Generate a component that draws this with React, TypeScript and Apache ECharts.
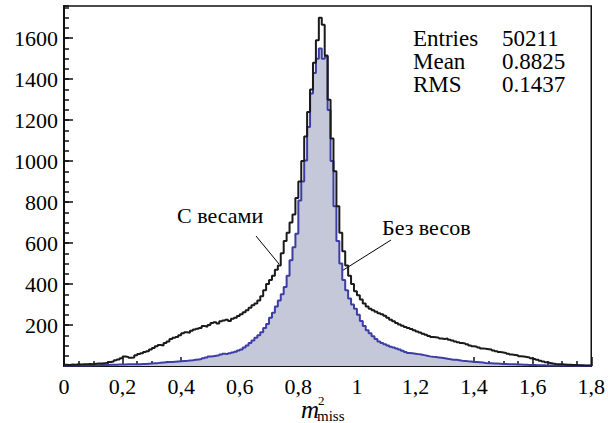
import React, { useEffect, useRef } from "react";
import * as echarts from "echarts";

// Histogram bin width and bin contents (bins start at 0, width 0.01)
const binWidth = 0.01;
const weighted = [
  6, 5, 7, 6, 8, 7, 9, 8, 10, 9,
  11, 12, 12, 14, 16, 20, 22, 28, 32, 38,
  46, 44, 40, 42, 52, 58, 62, 68, 72, 80,
  88, 96, 102, 100, 112, 120, 132, 138, 142, 150,
  160, 165, 162, 172, 178, 182, 186, 195, 192, 200,
  210, 214, 208, 218, 222, 226, 220, 230, 236, 244,
  252, 262, 272, 284, 296, 305, 320, 340, 370, 400,
  420, 440, 470, 490, 550, 610, 650, 700, 740, 820,
  900, 1000, 1120, 1240, 1350, 1480, 1590, 1700, 1665, 1515,
  1300, 1110, 950, 780, 650, 560, 490, 440, 400, 365,
  345, 325, 305, 290, 280, 272, 265, 258, 252, 245,
  236, 226, 218, 210, 202, 196, 190, 186, 180, 174,
  168, 164, 158, 152, 146, 142, 140, 138, 134, 132,
  134, 128, 124, 120, 116, 112, 110, 106, 100, 96,
  94, 90, 86, 84, 82, 80, 76, 72, 68, 66,
  64, 60, 56, 54, 52, 48, 46, 44, 42, 38,
  34, 30, 26, 22, 18, 15, 12, 10, 9, 8,
  7, 6, 6, 5, 5, 4, 4, 3, 3, 3,
];
const unweighted = [
  2, 2, 3, 2, 3, 3, 3, 4, 3, 4,
  4, 4, 5, 5, 5, 6, 6, 6, 7, 7,
  7, 8, 8, 8, 9, 9, 10, 10, 11, 12,
  13, 14, 16, 17, 18, 19, 20, 21, 22, 23,
  24, 25, 27, 28, 30, 32, 34, 38, 42, 46,
  48, 50, 52, 56, 60, 58, 62, 66, 70, 76,
  80, 90, 100, 112, 124, 138, 150, 165, 185, 205,
  235, 260, 290, 320, 350, 385, 440, 516, 580, 646,
  808, 900, 1003, 1166, 1330, 1430, 1500, 1550, 1500, 1510,
  1250, 1000, 780, 610, 500, 420, 370, 330, 300, 280,
  250, 220, 195, 175, 160, 145, 132, 120, 112, 106,
  100, 94, 90, 86, 80, 74, 68, 64, 62, 60,
  58, 56, 53, 50, 47, 45, 44, 42, 40, 38,
  35, 33, 31, 30, 28, 26, 25, 23, 22, 20,
  19, 18, 17, 15, 14, 13, 12, 12, 11, 10,
  10, 9, 8, 8, 7, 7, 6, 6, 5, 5,
  5, 4, 4, 4, 3, 3, 3, 3, 2, 2,
  2, 2, 2, 2, 1, 1, 1, 1, 1, 1,
];
const xTickLabels = ["0", "0,2", "0,4", "0,6", "0,8", "1", "1,2", "1,4", "1,6", "1,8"];
const yTickLabels = ["", "200", "400", "600", "800", "1000", "1200", "1400", "1600"];
const statNames = ["Entries", "Mean", "RMS"];
const statValues = ["50211", "0.8825", "0.1437"];
const labelWeighted = "С весами";
const labelUnweighted = "Без весов";

const FONT = "Liberation Serif";

function toSteps(vals: number[]) {
  const pts: number[][] = vals.map((v, i) => [+(i * binWidth).toFixed(4), v]);
  pts.push([+(vals.length * binWidth).toFixed(4), vals[vals.length - 1]]);
  return pts;
}

export default function App() {
  const ref = useRef<HTMLDivElement>(null);
  useEffect(() => {
    if (!ref.current) return;
    const chart = echarts.init(ref.current, null, { renderer: "svg" });
    const txt = (text: string, x: number, y: number, size: number, extra: any = {}) => ({
      type: "text",
      x,
      y,
      silent: true,
      style: {
        text,
        fontSize: size,
        fontFamily: FONT,
        fill: "#000",
        verticalAlign: "middle",
        ...extra,
      },
    });
    const graphics: any[] = [];
    statNames.forEach((n, i) => {
      graphics.push(txt(n, 413, 38 + i * 23, 23));
      graphics.push(txt(statValues[i], 502, 38 + i * 23, 23));
    });
    graphics.push(txt(labelWeighted, 177, 215, 22));
    graphics.push(txt(labelUnweighted, 382, 227, 22));
    graphics.push({
      type: "line",
      silent: true,
      shape: { x1: 256, y1: 236, x2: 279, y2: 264 },
      style: { stroke: "#000", lineWidth: 1 },
    });
    graphics.push({
      type: "line",
      silent: true,
      shape: { x1: 391, y1: 240, x2: 329, y2: 279 },
      style: { stroke: "#000", lineWidth: 1 },
    });
    graphics.push(txt("m", 301, 409, 25, { fontStyle: "italic" }));
    graphics.push(txt("2", 318, 400, 13));
    graphics.push(txt("miss", 317, 415.5, 15));

    chart.setOption({
      animation: false,
      backgroundColor: "#fff",
      grid: {
        left: 64,
        top: 6,
        right: 15,
        bottom: 57,
        show: true,
        borderColor: "#111",
        borderWidth: 1.5,
      },
      xAxis: {
        type: "value",
        min: 0,
        max: 1.8,
        interval: 0.2,
        axisLine: { show: true, onZero: false, lineStyle: { color: "#111", width: 2 } },
        axisTick: { show: true, inside: true, length: 9, lineStyle: { color: "#111", width: 1.5 } },
        minorTick: { show: true, splitNumber: 4, length: 5, lineStyle: { color: "#111", width: 1.5 } },
        splitLine: { show: false },
        minorSplitLine: { show: false },
        axisLabel: {
          margin: 9,
          fontSize: 22,
          fontFamily: FONT,
          color: "#000",
          formatter: (v: number) => xTickLabels[Math.round(v / 0.2)] ?? "",
        },
      },
      yAxis: [
        {
          type: "value",
          position: "left",
          min: 0,
          max: 1757,
          interval: 200,
          axisLine: { show: true, onZero: false, lineStyle: { color: "#111", width: 2 } },
          axisTick: { show: true, inside: true, length: 9, lineStyle: { color: "#111", width: 1.5 } },
          splitLine: { show: false },
          axisLabel: {
            margin: 6,
            fontSize: 22,
            fontFamily: FONT,
            color: "#000",
            showMinLabel: false,
            showMaxLabel: false,
            formatter: (v: number) => yTickLabels[Math.round(v / 200)] ?? "",
          },
        },
        {
          type: "value",
          position: "left",
          min: 0,
          max: 1757,
          interval: 50,
          axisLine: { show: false },
          axisTick: { show: true, inside: true, length: 5, lineStyle: { color: "#111", width: 1.5 } },
          splitLine: { show: false },
          axisLabel: { show: false },
        },
      ],
      series: [
        {
          name: labelUnweighted,
          type: "line",
          step: "end",
          yAxisIndex: 0,
          data: toSteps(unweighted),
          showSymbol: false,
          lineStyle: { color: "#3d3da6", width: 2 },
          areaStyle: { color: "#c4c8d8", opacity: 1 },
          silent: true,
          z: 2,
        },
        {
          name: labelWeighted,
          type: "line",
          step: "end",
          yAxisIndex: 0,
          data: toSteps(weighted),
          showSymbol: false,
          lineStyle: { color: "#1a1a1a", width: 2 },
          silent: true,
          z: 3,
        },
      ],
      graphic: graphics,
    });
    return () => chart.dispose();
  }, []);
  return (
    <div
      ref={ref}
      style={{ position: "absolute", left: 0, top: 0, width: 608, height: 423 }}
    />
  );
}
